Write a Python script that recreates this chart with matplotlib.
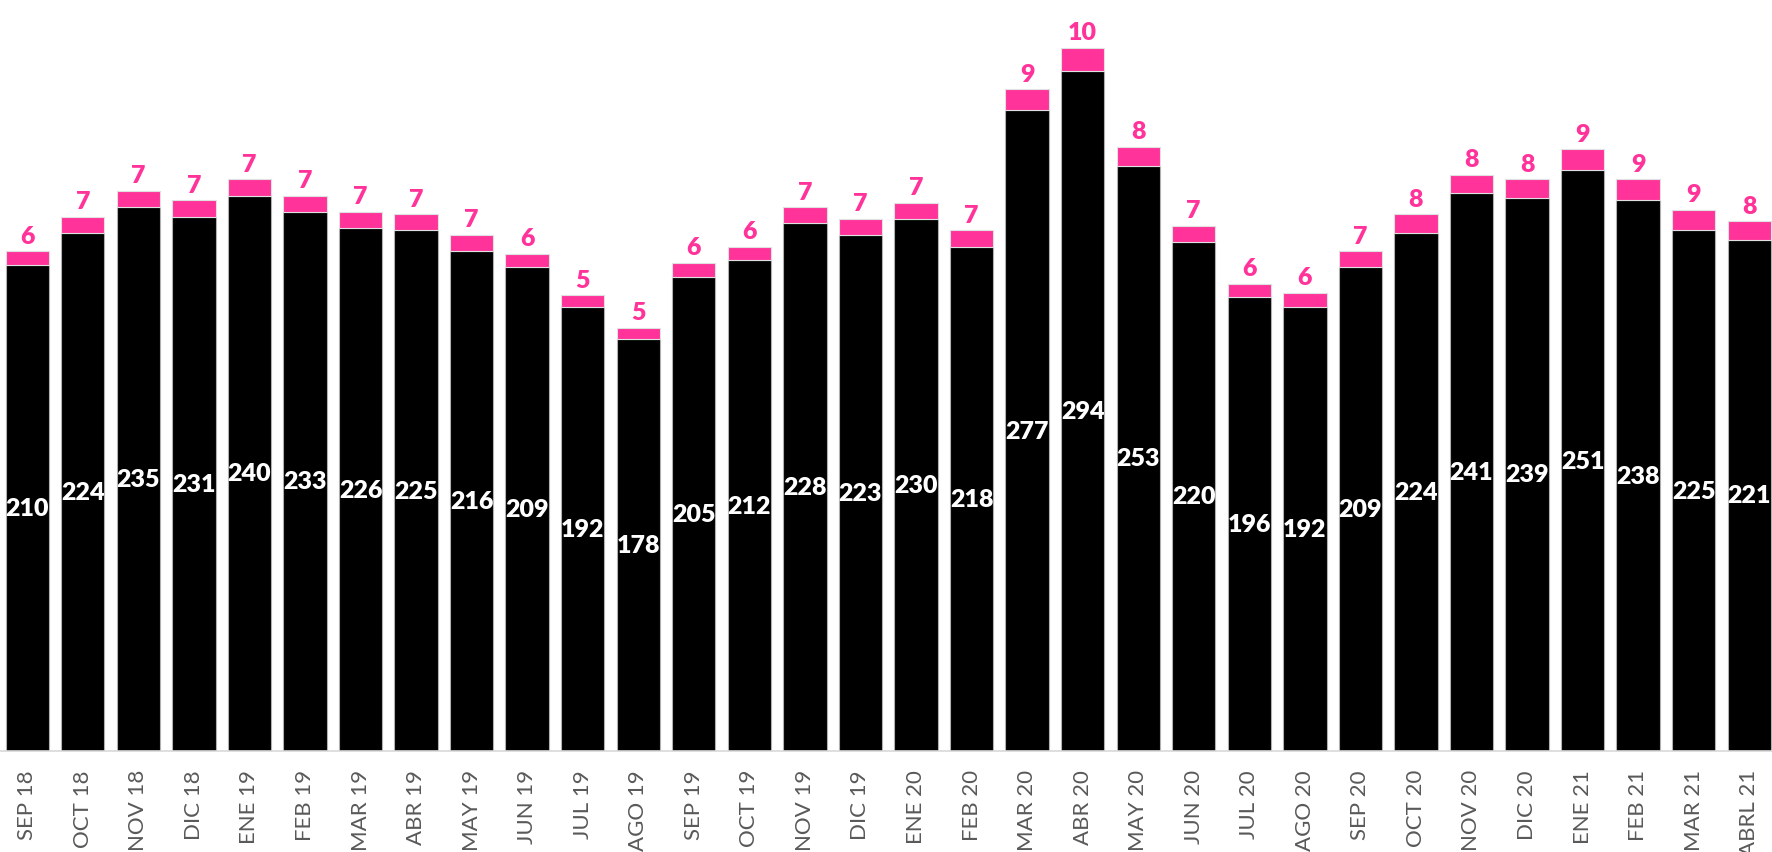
import numpy as np
import matplotlib.pyplot as plt

months = ['SEP 18', 'OCT 18', 'NOV 18', 'DIC 18', 'ENE 19', 'FEB 19', 'MAR 19', 'ABR 19',
          'MAY 19', 'JUN 19', 'JUL 19', 'AGO 19', 'SEP 19', 'OCT 19', 'NOV 19', 'DIC 19',
          'ENE 20', 'FEB 20', 'MAR 20', 'ABR 20', 'MAY 20', 'JUN 20', 'JUL 20', 'AGO 20',
          'SEP 20', 'OCT 20', 'NOV 20', 'DIC 20', 'ENE 21', 'FEB 21', 'MAR 21', 'ABRL 21']
base = [210, 224, 235, 231, 240, 233, 226, 225, 216, 209, 192, 178, 205, 212, 228, 223,
        230, 218, 277, 294, 253, 220, 196, 192, 209, 224, 241, 239, 251, 238, 225, 221]
extra = [6, 7, 7, 7, 7, 7, 7, 7, 7, 6, 5, 5, 6, 6, 7, 7,
         7, 7, 9, 10, 8, 7, 6, 6, 7, 8, 8, 8, 9, 9, 9, 8]

plt.rcParams['font.family'] = ['Lato', 'DejaVu Sans']
pink = '#FF3399'

fig = plt.figure(figsize=(17.72, 8.53), dpi=100)
ax = fig.add_axes([0.0, 101 / 853, 1.0, 752 / 853])

x = np.arange(len(months))
w = 0.78
ax.bar(x, base, w, color='black', edgecolor='#b0b0b0', linewidth=0.8)
ax.bar(x, extra, w, bottom=base, color=pink, edgecolor='#e0e0e0', linewidth=0.8)

for i in range(len(months)):
    ax.text(x[i], base[i] / 2, str(base[i]), ha='center', va='center',
            color='white', fontsize=18, fontweight='heavy')
    ax.text(x[i], base[i] + extra[i] + 2, str(extra[i]), ha='center', va='bottom',
            color=pink, fontsize=18, fontweight='heavy')

ax.set_xlim(-0.49, 31.41)
ax.set_ylim(0, 325)
ax.set_xticks(x)
ax.set_xticklabels(months, rotation=90, fontsize=16, color='#595959')
ax.tick_params(axis='x', length=0, pad=13)
ax.set_yticks([])
for s in ['top', 'left', 'right']:
    ax.spines[s].set_visible(False)
ax.spines['bottom'].set_color('#d9d9d9')
ax.spines['bottom'].set_linewidth(1.2)

fig.savefig('out.png', dpi=100)
